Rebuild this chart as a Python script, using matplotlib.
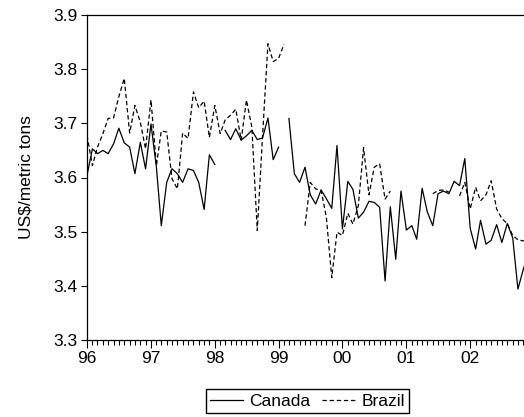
import matplotlib
matplotlib.use("Agg")
import matplotlib.pyplot as plt
import matplotlib.dates as mdates
import numpy as np
import pandas as pd

nan = np.nan

months = pd.date_range("1996-01-01", "2002-12-01", freq="MS")

canada = [
    3.604, 3.653, 3.644, 3.650, 3.644, 3.662, 3.691, 3.664, 3.656, 3.607, 3.665, 3.616,
    3.699, 3.619, 3.511, 3.591, 3.616, 3.607, 3.591, 3.616, 3.613, 3.591, 3.541, 3.642,
    3.624, nan, 3.687, 3.670, 3.690, 3.669, 3.677, 3.687, 3.670, 3.673, 3.710, 3.633,
    3.656, nan, 3.709, 3.607, 3.591, 3.619, 3.568, 3.551, 3.577, 3.561, 3.543, 3.659,
    3.505, 3.593, 3.578, 3.525, 3.536, 3.556, 3.554, 3.545, 3.409, 3.546, 3.449, 3.575,
    3.503, 3.511, 3.486, 3.580, 3.536, 3.511, 3.570, 3.575, 3.570, 3.593, 3.585, 3.635,
    3.506, 3.468, 3.521, 3.477, 3.484, 3.513, 3.480, 3.515, 3.489, 3.394, 3.431, 3.460,
]

brazil = [
    3.678, 3.622, 3.656, 3.681, 3.709, 3.710, 3.749, 3.783, 3.682, 3.733, 3.702, 3.653,
    3.743, 3.622, 3.686, 3.684, 3.598, 3.579, 3.682, 3.672, 3.758, 3.729, 3.741, 3.674,
    3.733, 3.681, 3.706, 3.715, 3.726, 3.669, 3.743, 3.693, 3.502, 3.675, 3.847, 3.814,
    3.820, 3.846, nan, nan, nan, 3.511, 3.591, 3.579, 3.576, 3.527, 3.415, 3.499,
    3.493, 3.534, 3.514, 3.548, 3.655, 3.568, 3.619, 3.625, 3.560, 3.575, nan, nan,
    nan, nan, nan, nan, nan, 3.570, 3.576, 3.577, 3.573, nan, 3.566, 3.591,
    3.542, 3.582, 3.557, 3.568, 3.594, 3.542, 3.524, 3.515, 3.493, 3.485, 3.483, 3.482,
]

y_ticks = [3.3, 3.4, 3.5, 3.6, 3.7, 3.8, 3.9]

plt.rcParams["font.family"] = ["Liberation Sans", "DejaVu Sans"]
plt.rcParams["font.size"] = 12.5

fig = plt.figure(figsize=(5.24, 4.17), dpi=100)
ax = fig.add_axes([87 / 524, 77 / 417, 441.6 / 524, 325 / 417])

ax.plot(months, canada, color="black", linewidth=0.9, label="Canada")
ax.plot(months, brazil, color="black", linewidth=0.9,
        linestyle=(0, (3.5, 2.2)), label="Brazil")

ax.set_xlim(months[0], months[-1])
ax.set_ylim(3.3, 3.9)
ax.set_yticks(y_ticks)
ax.set_yticklabels([f"{v:.1f}" for v in y_ticks])
ax.xaxis.set_major_locator(mdates.YearLocator())
ax.xaxis.set_major_formatter(mdates.DateFormatter("%y"))
ax.xaxis.set_minor_locator(mdates.MonthLocator())

ax.tick_params(axis="x", which="major", direction="out", length=6, width=0.8, pad=2)
ax.tick_params(axis="x", which="minor", direction="out", length=3.5, width=0.8)
ax.tick_params(axis="y", direction="out", length=4, width=0.8, pad=3)
for side in ax.spines.values():
    side.set_linewidth(0.9)

ax.set_ylabel("US$/metric tons", labelpad=14)

fig.legend(loc="center", bbox_to_anchor=(307.5 / 524, 1 - 401 / 417), ncol=2,
           frameon=True, fancybox=False, edgecolor="black", framealpha=1,
           borderpad=0.25, handlelength=1.9, handletextpad=0.35,
           columnspacing=0.7, borderaxespad=0)

fig.savefig("out.png", dpi=100)
